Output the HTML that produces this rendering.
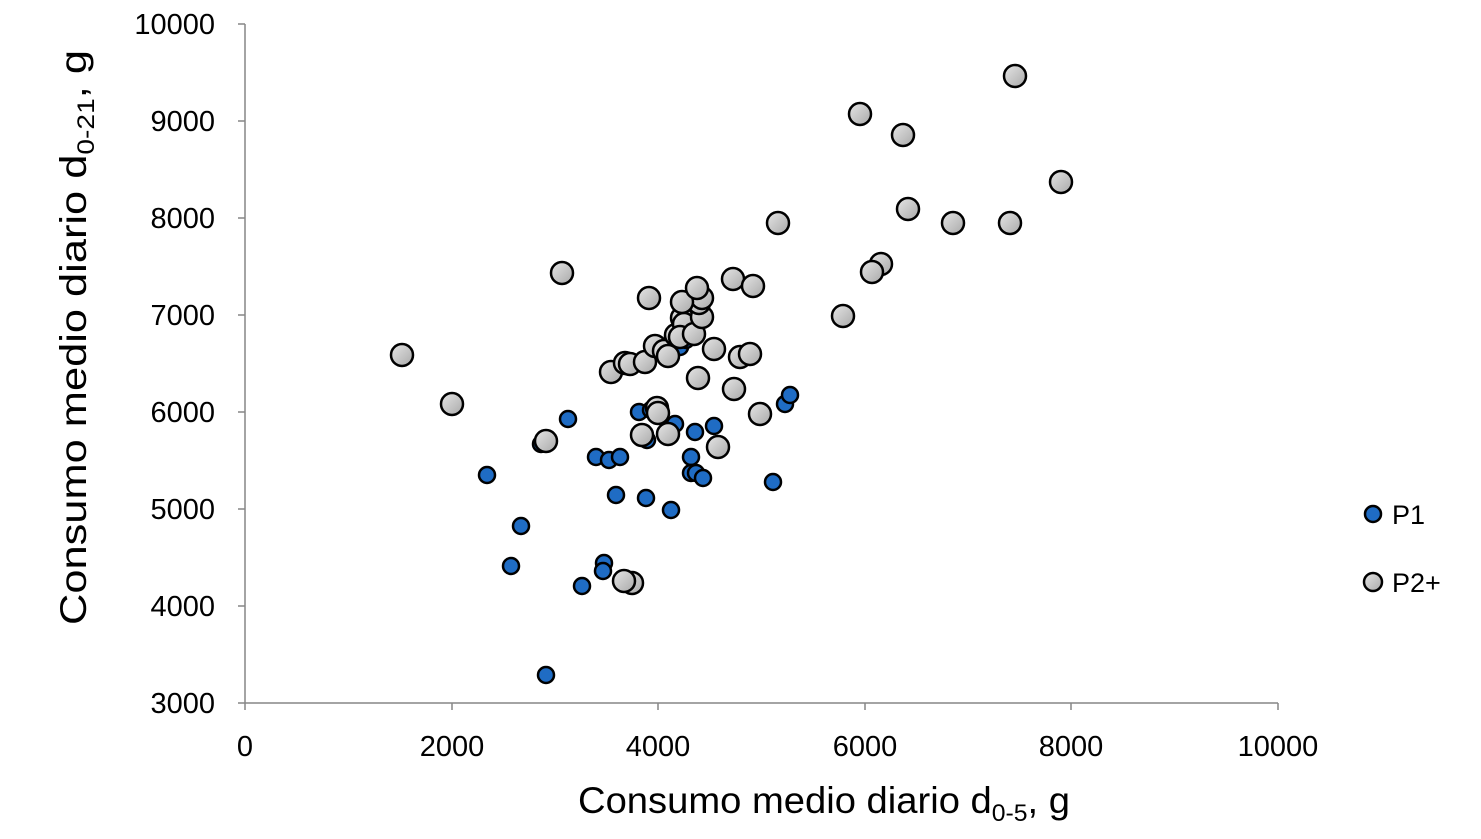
<!DOCTYPE html>
<html><head><meta charset="utf-8"><style>body{margin:0;background:#fff}</style></head><body>
<svg width="1481" height="834" xmlns="http://www.w3.org/2000/svg" font-family="Liberation Sans, sans-serif">
<defs><linearGradient id="g" x1="0" y1="0" x2="1" y2="1"><stop offset="0" stop-color="#e6e6e6"/><stop offset="1" stop-color="#a8a8a8"/></linearGradient></defs>
<g stroke="#868686" stroke-width="1.5">
<line x1="245" y1="24" x2="245" y2="703"/><line x1="245" y1="703" x2="1278" y2="703"/>
<line x1="238" y1="24" x2="245" y2="24"/><line x1="238" y1="121" x2="245" y2="121"/><line x1="238" y1="218" x2="245" y2="218"/><line x1="238" y1="315" x2="245" y2="315"/><line x1="238" y1="412" x2="245" y2="412"/><line x1="238" y1="509" x2="245" y2="509"/><line x1="238" y1="606" x2="245" y2="606"/><line x1="238" y1="703" x2="245" y2="703"/>
<line x1="245" y1="703" x2="245" y2="710"/><line x1="452" y1="703" x2="452" y2="710"/><line x1="658" y1="703" x2="658" y2="710"/><line x1="865" y1="703" x2="865" y2="710"/><line x1="1071" y1="703" x2="1071" y2="710"/><line x1="1278" y1="703" x2="1278" y2="710"/>
</g>
<g font-size="29" fill="#000" text-anchor="end">
<text x="215" y="34">10000</text><text x="215" y="131">9000</text><text x="215" y="228">8000</text><text x="215" y="325">7000</text><text x="215" y="422">6000</text><text x="215" y="519">5000</text><text x="215" y="616">4000</text><text x="215" y="713">3000</text>
</g>
<g font-size="29" fill="#000" text-anchor="middle">
<text x="245" y="756">0</text><text x="452" y="756">2000</text><text x="658" y="756">4000</text><text x="865" y="756">6000</text><text x="1071" y="756">8000</text><text x="1278" y="756">10000</text>
</g>
<text x="578" y="813" font-size="37" textLength="492" lengthAdjust="spacingAndGlyphs">Consumo medio diario d<tspan font-size="24" dy="8">0-5</tspan><tspan dy="-8">, g</tspan></text>
<text transform="translate(86,625) rotate(-90)" font-size="37" textLength="575" lengthAdjust="spacingAndGlyphs">Consumo medio diario d<tspan font-size="24" dy="8">0-21</tspan><tspan dy="-8">, g</tspan></text>
<g fill="#1f6cc4" stroke="#000" stroke-width="2.5">
<circle cx="487" cy="475" r="8"/><circle cx="521" cy="526" r="8"/><circle cx="511" cy="566" r="8"/><circle cx="582" cy="586" r="8"/><circle cx="604" cy="563" r="8"/><circle cx="603" cy="571" r="8"/><circle cx="568" cy="419" r="8"/><circle cx="546" cy="675" r="8"/><circle cx="596" cy="457" r="8"/><circle cx="609" cy="460" r="8"/><circle cx="620" cy="457" r="8"/><circle cx="616" cy="495" r="8"/><circle cx="639" cy="412" r="8"/><circle cx="647" cy="440" r="8"/><circle cx="646" cy="498" r="8"/><circle cx="671" cy="510" r="8"/><circle cx="675" cy="424" r="8"/><circle cx="691" cy="457" r="8"/><circle cx="695" cy="432" r="8"/><circle cx="691" cy="473" r="8"/><circle cx="696" cy="473" r="8"/><circle cx="703" cy="478" r="8"/><circle cx="714" cy="426" r="8"/><circle cx="773" cy="482" r="8"/><circle cx="785" cy="404" r="8"/><circle cx="790" cy="395" r="8"/><circle cx="673" cy="337" r="8"/><circle cx="680" cy="347" r="8"/><circle cx="686" cy="340" r="8"/><circle cx="651" cy="410" r="8"/><circle cx="541" cy="444" r="8"/>
<circle cx="1373" cy="514" r="8"/>
</g>
<g fill="url(#g)" stroke="#000" stroke-width="2.5">
<circle cx="402" cy="355" r="11"/><circle cx="452" cy="404" r="11"/><circle cx="546" cy="441" r="11"/><circle cx="562" cy="273" r="11"/><circle cx="611" cy="372" r="11"/><circle cx="625" cy="363" r="11"/><circle cx="630" cy="364" r="11"/><circle cx="632" cy="583" r="11"/><circle cx="624" cy="581" r="11"/><circle cx="645" cy="362" r="11"/><circle cx="649" cy="298" r="11"/><circle cx="655" cy="346" r="11"/><circle cx="664" cy="351" r="11"/><circle cx="668" cy="356" r="11"/><circle cx="676" cy="335" r="11"/><circle cx="682" cy="318" r="11"/><circle cx="684" cy="324" r="11"/><circle cx="680" cy="337" r="11"/><circle cx="694" cy="334" r="11"/><circle cx="702" cy="317" r="11"/><circle cx="699" cy="303" r="11"/><circle cx="702" cy="298" r="11"/><circle cx="682" cy="302" r="11"/><circle cx="697" cy="288" r="11"/><circle cx="714" cy="349" r="11"/><circle cx="657" cy="408" r="11"/><circle cx="658" cy="413" r="11"/><circle cx="642" cy="435" r="11"/><circle cx="668" cy="434" r="11"/><circle cx="698" cy="378" r="11"/><circle cx="718" cy="447" r="11"/><circle cx="733" cy="279" r="11"/><circle cx="753" cy="286" r="11"/><circle cx="734" cy="389" r="11"/><circle cx="740" cy="357" r="11"/><circle cx="750" cy="354" r="11"/><circle cx="760" cy="414" r="11"/><circle cx="778" cy="223" r="11"/><circle cx="843" cy="316" r="11"/><circle cx="860" cy="114" r="11"/><circle cx="881" cy="264" r="11"/><circle cx="872" cy="272" r="11"/><circle cx="903" cy="135" r="11"/><circle cx="908" cy="209" r="11"/><circle cx="953" cy="223" r="11"/><circle cx="1010" cy="223" r="11"/><circle cx="1015" cy="76" r="11"/><circle cx="1061" cy="182" r="11"/>
<circle cx="1373" cy="582" r="9"/>
</g>
<text x="1392" y="524" font-size="27">P1</text>
<text x="1392" y="592" font-size="27">P2+</text>
</svg>
</body></html>
